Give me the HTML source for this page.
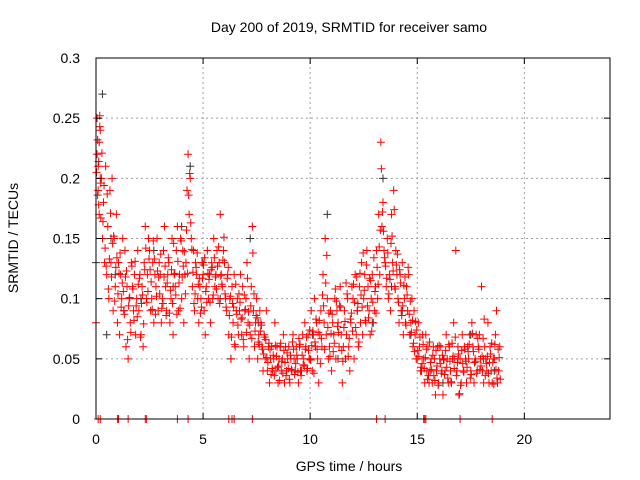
<!DOCTYPE html>
<html><head><meta charset="utf-8"><style>
body{margin:0;background:#fff;}
svg{display:block;font-family:"Liberation Sans",sans-serif;}
</style></head><body>
<svg id="chart" width="640" height="480">
<text x="349" y="32" font-size="14" text-anchor="middle">Day 200 of 2019, SRMTID for receiver samo</text>
<text x="349" y="471" font-size="14" text-anchor="middle">GPS time / hours</text>
<text x="18" y="238" font-size="14" text-anchor="middle" transform="rotate(-90 18 238)">SRMTID / TECUs</text>
<g id="grid"></g><g id="marks"></g><g id="axes"></g>
</svg>
<script>
const xTicks=[0,5,10,15,20];
const yTicks=[0,0.05,0.1,0.15,0.2,0.25,0.3];
const yTickLabels=["0","0.05","0.1","0.15","0.2","0.25","0.3"];
const times=[0.0,0.05,0.1,0.15,0.2,0.3,0.4,0.5,0.6,0.7,0.8,0.9,1.0,1.1,1.2,1.3,1.4,1.5,1.6,1.7,1.8,1.9,2.0,2.1,2.2,2.3,2.4,2.5,2.6,2.7,2.8,2.9,3.0,3.1,3.2,3.3,3.4,3.5,3.6,3.7,3.8,3.9,4.0,4.1,4.2,4.3,4.4,4.5,4.6,4.7,4.8,4.9,5.0,5.1,5.2,5.3,5.4,5.5,5.6,5.7,5.8,5.9,6.0,6.1,6.2,6.3,6.4,6.5,6.6,6.7,6.8,6.9,7.0,7.1,7.2,7.3,7.4,7.5,7.6,7.7,7.8,7.9,8.0,8.1,8.2,8.3,8.4,8.5,8.6,8.7,8.8,8.9,9.0,9.1,9.2,9.3,9.4,9.5,9.6,9.7,9.8,9.9,10.0,10.1,10.2,10.3,10.4,10.5,10.6,10.7,10.8,10.9,11.0,11.1,11.2,11.3,11.4,11.5,11.6,11.7,11.8,11.9,12.0,12.1,12.2,12.3,12.4,12.5,12.6,12.7,12.8,12.9,13.0,13.1,13.2,13.3,13.4,13.5,13.6,13.7,13.8,13.9,14.0,14.1,14.2,14.3,14.4,14.5,14.6,14.7,14.8,14.9,15.0,15.1,15.2,15.3,15.4,15.5,15.6,15.7,15.8,15.9,16.0,16.1,16.2,16.3,16.4,16.5,16.6,16.7,16.8,16.9,17.0,17.1,17.2,17.3,17.4,17.5,17.6,17.7,17.8,17.9,18.0,18.1,18.2,18.3,18.4,18.5,18.6,18.7,18.8];
const valsA=[0.08,0.25,0.19,0.17,0.24,0.15,0.13,0.12,0.10,0.13,0.09,0.11,0.08,0.07,0.10,0.09,0.06,0.05,0.08,0.11,0.12,0.10,0.09,0.07,0.06,0.16,0.12,0.14,0.10,0.08,0.11,0.09,0.12,0.10,0.16,0.09,0.13,0.10,0.07,0.11,0.16,0.12,0.10,0.08,0.13,0.22,0.20,0.11,0.09,0.12,0.08,0.10,0.12,0.07,0.14,0.12,0.13,0.15,0.12,0.10,0.17,0.11,0.13,0.09,0.07,0.05,0.08,0.06,0.10,0.09,0.07,0.06,0.10,0.08,0.07,0.16,0.06,0.10,0.07,0.08,0.04,0.05,0.04,0.03,0.06,0.05,0.04,0.03,0.06,0.05,0.03,0.04,0.06,0.05,0.07,0.04,0.05,0.06,0.04,0.05,0.06,0.07,0.05,0.04,0.10,0.08,0.03,0.09,0.12,0.15,0.10,0.06,0.04,0.07,0.05,0.08,0.11,0.03,0.09,0.07,0.06,0.08,0.10,0.12,0.09,0.11,0.13,0.10,0.08,0.11,0.07,0.12,0.09,0.14,0.17,0.23,0.18,0.13,0.15,0.12,0.17,0.19,0.14,0.10,0.12,0.13,0.10,0.11,0.12,0.08,0.06,0.07,0.05,0.06,0.04,0.05,0.07,0.06,0.04,0.03,0.05,0.04,0.03,0.06,0.02,0.04,0.05,0.06,0.03,0.08,0.14,0.06,0.05,0.07,0.06,0.03,0.05,0.04,0.06,0.05,0.04,0.07,0.11,0.03,0.05,0.08,0.06,0.03,0.05,0.09,0.04];
const valsB=[0.22,0.21,0.23,0.20,0.20,0.18,0.21,0.16,0.19,0.20,0.15,0.17,0.13,0.12,0.15,0.14,0.11,0.10,0.13,0.09,0.07,0.14,0.12,0.11,0.13,0.10,0.15,0.09,0.13,0.12,0.15,0.13,0.08,0.14,0.11,0.12,0.08,0.15,0.12,0.14,0.09,0.15,0.14,0.12,0.19,0.17,0.15,0.14,0.13,0.10,0.11,0.13,0.09,0.11,0.10,0.08,0.10,0.11,0.14,0.13,0.12,0.14,0.10,0.12,0.10,0.11,0.12,0.09,0.07,0.12,0.11,0.09,0.13,0.05,0.11,0.09,0.08,0.05,0.09,0.06,0.07,0.09,0.06,0.05,0.04,0.08,0.06,0.05,0.04,0.07,0.06,0.05,0.03,0.04,0.05,0.06,0.03,0.04,0.07,0.08,0.04,0.05,0.09,0.07,0.06,0.05,0.07,0.06,0.08,0.07,0.05,0.09,0.08,0.10,0.09,0.06,0.07,0.06,0.05,0.10,0.04,0.11,0.05,0.07,0.06,0.08,0.07,0.12,0.14,0.09,0.10,0.08,0.11,0.10,0.12,0.16,0.14,0.11,0.10,0.09,0.13,0.11,0.12,0.08,0.09,0.07,0.08,0.09,0.07,0.10,0.09,0.05,0.08,0.04,0.07,0.03,0.04,0.03,0.05,0.06,0.02,0.06,0.05,0.04,0.05,0.07,0.03,0.04,0.05,0.05,0.04,0.02,0.03,0.04,0.05,0.06,0.07,0.08,0.03,0.07,0.06,0.05,0.04,0.06,0.04,0.03,0.04,0.05,0.07,0.03,0.06];
const valsC=[0.205,0.232,0.178,0.243,0.196,0.164,0.142,0.187,0.133,0.118,0.152,0.126,0.104,0.138,0.113,0.087,0.123,0.094,0.072,0.108,0.131,0.085,0.117,0.096,0.079,0.142,0.106,0.124,0.091,0.133,0.102,0.118,0.137,0.096,0.127,0.113,0.088,0.124,0.146,0.103,0.131,0.092,0.118,0.139,0.157,0.186,0.163,0.122,0.104,0.138,0.117,0.093,0.128,0.106,0.121,0.097,0.126,0.134,0.108,0.143,0.119,0.132,0.104,0.117,0.086,0.068,0.093,0.112,0.078,0.097,0.084,0.103,0.072,0.089,0.094,0.138,0.073,0.084,0.062,0.078,0.054,0.066,0.047,0.058,0.042,0.036,0.052,0.044,0.063,0.038,0.047,0.055,0.033,0.041,0.058,0.046,0.039,0.062,0.053,0.044,0.068,0.057,0.049,0.073,0.064,0.058,0.082,0.067,0.094,0.113,0.076,0.052,0.087,0.063,0.098,0.072,0.093,0.048,0.081,0.104,0.067,0.088,0.112,0.076,0.096,0.121,0.093,0.107,0.128,0.084,0.115,0.097,0.106,0.126,0.143,0.208,0.156,0.127,0.138,0.116,0.152,0.174,0.128,0.097,0.113,0.094,0.118,0.103,0.087,0.072,0.063,0.081,0.057,0.068,0.046,0.042,0.058,0.036,0.047,0.053,0.032,0.044,0.061,0.038,0.049,0.057,0.034,0.048,0.063,0.042,0.036,0.054,0.028,0.046,0.058,0.043,0.062,0.037,0.056,0.048,0.067,0.041,0.052,0.083,0.046,0.038,0.054,0.047,0.062,0.034,0.051];
const valsD=[0.186,0.214,0.252,0.167,0.221,0.194,0.127,0.108,0.171,0.146,0.098,0.134,0.121,0.093,0.106,0.118,0.066,0.101,0.127,0.082,0.094,0.112,0.068,0.103,0.124,0.097,0.133,0.114,0.148,0.087,0.123,0.104,0.092,0.118,0.086,0.134,0.107,0.096,0.121,0.087,0.113,0.148,0.127,0.104,0.121,0.204,0.141,0.096,0.126,0.112,0.088,0.117,0.134,0.097,0.116,0.124,0.103,0.118,0.127,0.096,0.112,0.151,0.093,0.126,0.102,0.096,0.062,0.087,0.104,0.083,0.066,0.091,0.117,0.078,0.067,0.104,0.086,0.064,0.073,0.058,0.068,0.051,0.063,0.037,0.053,0.061,0.043,0.032,0.048,0.057,0.036,0.042,0.053,0.064,0.037,0.053,0.067,0.036,0.045,0.058,0.042,0.074,0.061,0.038,0.083,0.072,0.046,0.103,0.058,0.136,0.088,0.071,0.056,0.108,0.077,0.094,0.057,0.076,0.113,0.052,0.083,0.073,0.097,0.118,0.064,0.103,0.138,0.082,0.094,0.117,0.073,0.134,0.088,0.112,0.157,0.172,0.134,0.117,0.104,0.146,0.123,0.108,0.137,0.124,0.086,0.111,0.078,0.126,0.098,0.082,0.056,0.074,0.052,0.043,0.062,0.051,0.033,0.064,0.041,0.036,0.057,0.028,0.046,0.053,0.037,0.043,0.062,0.031,0.052,0.068,0.047,0.021,0.057,0.039,0.048,0.056,0.034,0.071,0.047,0.038,0.058,0.044,0.067,0.036,0.052,0.047,0.063,0.029,0.041,0.058,0.033];
const zeroTimes=[0.1,0.2,1.0,1.05,1.5,2.3,2.35,3.8,4.3,6.2,6.35,6.45,7.3,13.1,13.5,15.3,15.35,15.4,17.0,18.5];
const blackTimes=[0.0,0.3,0.5,0.7,0.9,1.3,2.1,2.7,3.6,4.0,4.4,5.0,5.8,6.3,7.2,7.6,8.6,9.3,10.1,10.8,11.3,12.2,12.9,13.4,13.8,14.3,14.7,15.6,16.2,16.9,17.5,18.1,18.6];
const blackVals=[0.13,0.27,0.07,0.15,0.12,0.09,0.10,0.14,0.11,0.16,0.21,0.13,0.10,0.05,0.15,0.08,0.06,0.04,0.07,0.17,0.05,0.09,0.08,0.20,0.11,0.09,0.07,0.04,0.03,0.05,0.07,0.05,0.04];
const X0=96,X1=610,Y0=419,Y1=58,XMAX=24,YMAX=0.3;
const xs=t=>X0+t/XMAX*(X1-X0);
const ys=v=>Y0-v/YMAX*(Y0-Y1);
const NS="http://www.w3.org/2000/svg";
function mk(tag,attrs,parent){const e=document.createElementNS(NS,tag);for(const k in attrs)e.setAttribute(k,attrs[k]);parent.appendChild(e);return e;}
const grid=document.getElementById('grid'),marks=document.getElementById('marks'),axes=document.getElementById('axes');
xTicks.forEach(t=>{const x=xs(t);
 if(t>0){const g=mk('line',{x1:x,y1:Y0,x2:x,y2:Y1,stroke:'#a0a0a0','stroke-dasharray':'2,3'},grid);
 
 }
 mk('line',{x1:x,y1:Y0,x2:x,y2:Y0-6,stroke:'#000'},axes);
 mk('line',{x1:x,y1:Y1,x2:x,y2:Y1+6,stroke:'#000'},axes);
 const l=mk('text',{x:x,y:Y0+25,'font-size':14,'text-anchor':'middle'},axes);l.textContent=t;
 
 
});
yTicks.forEach((v,i)=>{const y=ys(v);
 if(v>0&&v<YMAX){const g=mk('line',{x1:X0,y1:y,x2:X1,y2:y,stroke:'#a0a0a0','stroke-dasharray':'2,3'},grid);
 
 }
 mk('line',{x1:X0,y1:y,x2:X0+6,y2:y,stroke:'#000'},axes);
 mk('line',{x1:X1,y1:y,x2:X1-6,y2:y,stroke:'#000'},axes);
 const l=mk('text',{x:X0-16,y:y+5,'font-size':14,'text-anchor':'end'},axes);l.textContent=yTickLabels[i];
 
 
});
const border=mk('rect',{x:X0,y:Y1,width:X1-X0,height:Y0-Y1,fill:'none',stroke:'#000'},axes);


function plus(t,v,color,name){if(v===undefined||isNaN(v))return;const x=xs(t),y=ys(v);
 const p=mk('path',{d:`M${x-4},${y}h8M${x},${y-4}v8`,stroke:color,'stroke-width':1,fill:'none'},marks);
 
 
}
blackTimes.forEach((t,i)=>plus(t,blackVals[i],'#333','black-point'));
times.forEach((t,i)=>{
 plus(t,valsA[i],'#f00','red-point');
 plus(t+0.025,valsC[i],'#f00','red-point');
 plus(t+0.05,valsB[i],'#f00','red-point');
 plus(t+0.075,valsD[i],'#f00','red-point');
});
zeroTimes.forEach(t=>plus(t,0,'#f00','zero-point'));
</script>
</body></html>
